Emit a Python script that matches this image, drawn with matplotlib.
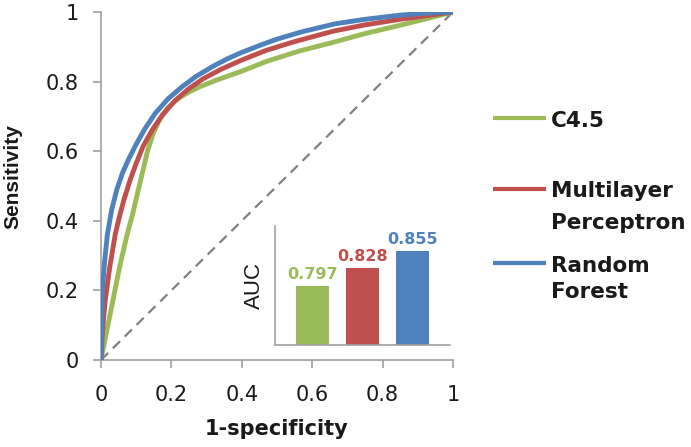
import matplotlib
matplotlib.use("Agg")
import matplotlib.pyplot as plt
from matplotlib.lines import Line2D

plt.rcParams['font.family'] = ['DejaVu Sans']

# ROC data
fpr_c45 = [0, 0.015, 0.034, 0.053, 0.075, 0.09, 0.104, 0.118, 0.132, 0.148, 0.166, 0.19, 0.22, 0.25, 0.28, 0.33, 0.4, 0.47, 0.56, 0.66, 0.75, 0.85, 0.93, 1.0]
tpr_c45 = [0, 0.077, 0.172, 0.268, 0.364, 0.42, 0.48, 0.54, 0.60, 0.65, 0.69, 0.725, 0.752, 0.77, 0.785, 0.805, 0.83, 0.858, 0.887, 0.913, 0.938, 0.962, 0.982, 1.0]

fpr_mlp = [0, 0.004, 0.012, 0.025, 0.041, 0.052, 0.065, 0.082, 0.1, 0.12, 0.145, 0.175, 0.21, 0.25, 0.29, 0.34, 0.4, 0.47, 0.55, 0.66, 0.75, 0.85, 0.93, 1.0]
tpr_mlp = [0, 0.08, 0.172, 0.268, 0.364, 0.41, 0.46, 0.515, 0.565, 0.615, 0.66, 0.705, 0.745, 0.78, 0.808, 0.835, 0.862, 0.89, 0.915, 0.945, 0.963, 0.979, 0.99, 1.0]

fpr_rf = [0, 0.002, 0.004, 0.01, 0.018, 0.03, 0.045, 0.062, 0.08, 0.1, 0.125, 0.155, 0.19, 0.23, 0.27, 0.32, 0.36, 0.4, 0.456, 0.5, 0.57, 0.665, 0.75, 0.85, 0.93, 1.0]
tpr_rf = [0, 0.1, 0.2, 0.28, 0.36, 0.43, 0.49, 0.54, 0.58, 0.62, 0.665, 0.71, 0.75, 0.785, 0.815, 0.845, 0.866, 0.884, 0.906, 0.922, 0.943, 0.966, 0.979, 0.991, 0.997, 1.0]

diag = [0, 1]

models = ['C4.5', 'Multilayer\nPerceptron', 'Random\nForest']
auc = [0.797, 0.828, 0.855]
auc_labels = ['0.797', '0.828', '0.855']
ticks = [0, 0.2, 0.4, 0.6, 0.8, 1]
tick_labels = ['0', '0.2', '0.4', '0.6', '0.8', '1']

colors = ['#9BBB59', '#C0504D', '#4F81BD']
spine_c = '#A0A0A0'
text_c = '#1a1a1a'

W, H = 691, 447
fig = plt.figure(figsize=(W / 100, H / 100), dpi=100)

def fx(px):
    return px / W

def fy(py):
    return 1 - py / H

ax = fig.add_axes([fx(101), fy(360), fx(453) - fx(101), fy(12) - fy(360)])
ax.plot(diag, diag, color='#808080', lw=1.6, dashes=(4.5, 3), zorder=1)
ax.plot(fpr_c45, tpr_c45, color=colors[0], lw=3.5, solid_capstyle='round', solid_joinstyle='round', zorder=2)
ax.plot(fpr_mlp, tpr_mlp, color=colors[1], lw=3.5, solid_capstyle='round', solid_joinstyle='round', zorder=3)
ax.plot(fpr_rf, tpr_rf, color=colors[2], lw=3.5, solid_capstyle='round', solid_joinstyle='round', zorder=4)
ax.set_xlim(0, 1)
ax.set_ylim(0, 1)
ax.set_xticks(ticks)
ax.set_xticklabels(tick_labels)
ax.set_yticks(ticks)
ax.set_yticklabels(tick_labels)
for s in ['top', 'right']:
    ax.spines[s].set_visible(False)
for s in ['left', 'bottom']:
    ax.spines[s].set_color(spine_c)
    ax.spines[s].set_linewidth(1.2)
ax.tick_params(axis='both', direction='out', length=6, width=1.2, color=spine_c,
               labelsize=15, labelcolor=text_c)
ax.tick_params(axis='x', pad=12)
ax.tick_params(axis='y', pad=10)
ax.set_xlabel('1-specificity', fontsize=15, fontweight='bold', labelpad=10, color=text_c)
ax.set_ylabel('Sensitivity', fontsize=15, fontweight='bold',
              family=['Liberation Sans'], color=text_c)
ax.yaxis.set_label_coords((22 - 101) / 352, (360 - 177) / 348)

# Inset bar chart
axi = fig.add_axes([fx(275), fy(345), fx(450) - fx(275), fy(226) - fy(345)])
xs = list(range(len(auc)))
axi.bar(xs, auc, width=0.65, color=colors, bottom=0)
axi.set_ylim(0.7, 0.897)
axi.set_xlim(-0.75, 2.75)
axi.set_xticks([])
axi.set_yticks([])
axi.patch.set_alpha(0)
for s in ['top', 'right']:
    axi.spines[s].set_visible(False)
for s in ['left', 'bottom']:
    axi.spines[s].set_color(spine_c)
    axi.spines[s].set_linewidth(1.2)
axi.set_ylabel('AUC', fontsize=16, labelpad=7, family=['Liberation Sans'], color=text_c)
for x, v, lab, c in zip(xs, auc, auc_labels, colors):
    axi.annotate(lab, (x, v), xytext=(0, 3), textcoords='offset points',
                 ha='center', va='bottom', color=c, fontsize=11.5, fontweight='bold')

# Legend (manual)
leg_line_y = [117.7, 189.3, 262.7]
leg_base_y = [[126.7], [197.3, 229.3], [271.7, 298.3]]
for name, c, ly, bys in zip(models, colors, leg_line_y, leg_base_y):
    fig.add_artist(Line2D([fx(493), fx(546)], [fy(ly), fy(ly)], color=c, lw=3,
                          solid_capstyle='butt', transform=fig.transFigure))
    for part, by in zip(name.split('\n'), bys):
        fig.text(fx(551), fy(by), part, fontsize=15.5, fontweight='bold',
                 va='baseline', ha='left', color=text_c)

fig.savefig('out.png', dpi=100)
